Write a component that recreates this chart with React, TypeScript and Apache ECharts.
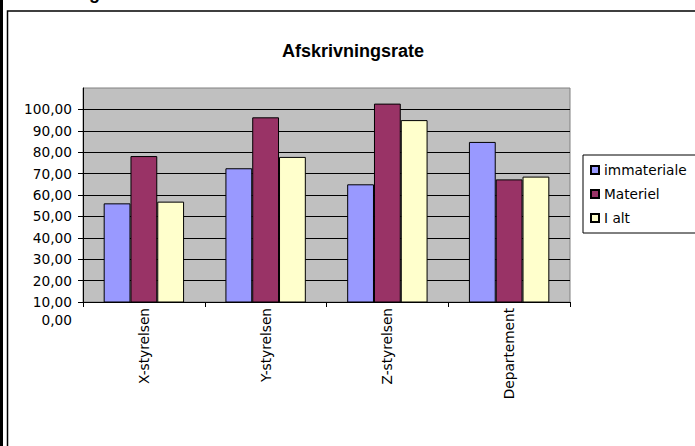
import React, { useEffect, useRef } from "react";
import * as echarts from "echarts";

// Afskrivningsrate per enhed (procent)
const categories = ["X-styrelsen", "Y-styrelsen", "Z-styrelsen", "Departement"];
const immateriale = [56.1, 72.5, 65.0, 84.8];
const materiel = [78.2, 96.3, 102.7, 67.3];
const iAlt = [56.9, 77.8, 95.0, 68.6];
const seriesNames = ["immateriale", "Materiel", "I alt"];
const seriesColors = ["#9999FF", "#993366", "#FFFFCC"];
const yMin = 10;
const yMax = 110;
const yStep = 10;
const belowAxisLabel = "0,00";

const FONT = "DejaVu Sans";
const FS = 13.7;

const fmt = (v: number) => v.toFixed(2).replace(".", ",");

export default function App() {
  const ref = useRef<HTMLDivElement | null>(null);

  useEffect(() => {
    if (!ref.current) return;
    const chart = echarts.init(ref.current, undefined, { renderer: "svg" });
    const values = [immateriale, materiel, iAlt];

    chart.setOption({
      animation: false,
      backgroundColor: "#ffffff",
      title: {
        text: "Afskrivningsrate",
        left: 282,
        top: 42,
        padding: 0,
        textStyle: {
          fontFamily: "Liberation Sans",
          fontWeight: "bold",
          fontSize: 18,
          color: "#000",
        },
      },
      legend: {
        orient: "vertical",
        left: 583,
        top: 155,
        padding: [8, 24, 8, 7],
        itemGap: 10,
        itemWidth: 8,
        itemHeight: 8,
        icon: "rect",
        borderColor: "#000",
        borderWidth: 1,
        backgroundColor: "#fff",
        data: seriesNames,
        textStyle: { fontFamily: FONT, fontSize: FS, color: "#000" },
      },
      grid: {
        left: 83,
        top: 88,
        width: 487,
        height: 214,
        show: true,
        backgroundColor: "#C0C0C0",
        borderColor: "#808080",
        borderWidth: 1,
      },
      xAxis: {
        type: "category",
        data: categories,
        axisLine: { lineStyle: { color: "#000", width: 1 } },
        axisTick: { show: true, length: 5, interval: 0, lineStyle: { color: "#000" } },
        axisLabel: {
          rotate: 90,
          interval: 0,
          margin: 6,
          color: "#000",
          fontFamily: FONT,
          fontSize: FS,
        },
      },
      yAxis: {
        type: "value",
        min: yMin,
        max: yMax,
        interval: yStep,
        axisLine: { show: true, lineStyle: { color: "#000", width: 1 } },
        axisTick: { show: true, length: 5, lineStyle: { color: "#000" } },
        axisLabel: {
          margin: 11,
          color: "#000",
          fontFamily: FONT,
          fontSize: FS,
          showMaxLabel: false,
          formatter: (v: number) => (v >= yMax ? "" : fmt(v)),
        },
        splitLine: {
          show: true,
          showMaxLine: false,
          lineStyle: { color: "#000", width: 1 },
        },
      },
      series: seriesNames.map((name, i) => ({
        name,
        type: "bar",
        data: values[i],
        barWidth: 26.8,
        barGap: "0%",
        clip: true,
        itemStyle: {
          color: seriesColors[i],
          borderColor: "#000",
          borderWidth: 1,
        },
      })),
      graphic: [
        // left page rule
        {
          type: "rect",
          shape: { x: 0, y: 0, width: 3, height: 446 },
          style: { fill: "#000" },
          silent: true,
        },
        // chart frame
        {
          type: "rect",
          shape: { x: 7.5, y: 11, width: 700, height: 460 },
          style: { fill: "none", stroke: "#000", lineWidth: 1.5 },
          silent: true,
        },
        // heading above the frame, mostly cut off at the top edge
        {
          type: "text",
          x: 89,
          y: 2,
          style: {
            text: "g",
            fill: "#000",
            font: "bold 18px 'Liberation Sans'",
            verticalAlign: "bottom",
            align: "left",
          },
          silent: true,
        },
        // zero label one step below the value axis
        {
          type: "text",
          x: 72,
          y: 320,
          style: {
            text: belowAxisLabel,
            fill: "#000",
            font: `${FS}px '${FONT}'`,
            align: "right",
            verticalAlign: "middle",
          },
          silent: true,
        },
      ],
    });

    return () => chart.dispose();
  }, []);

  return (
    <div
      ref={ref}
      style={{ position: "fixed", left: 0, top: 0, width: 695, height: 446 }}
    />
  );
}
